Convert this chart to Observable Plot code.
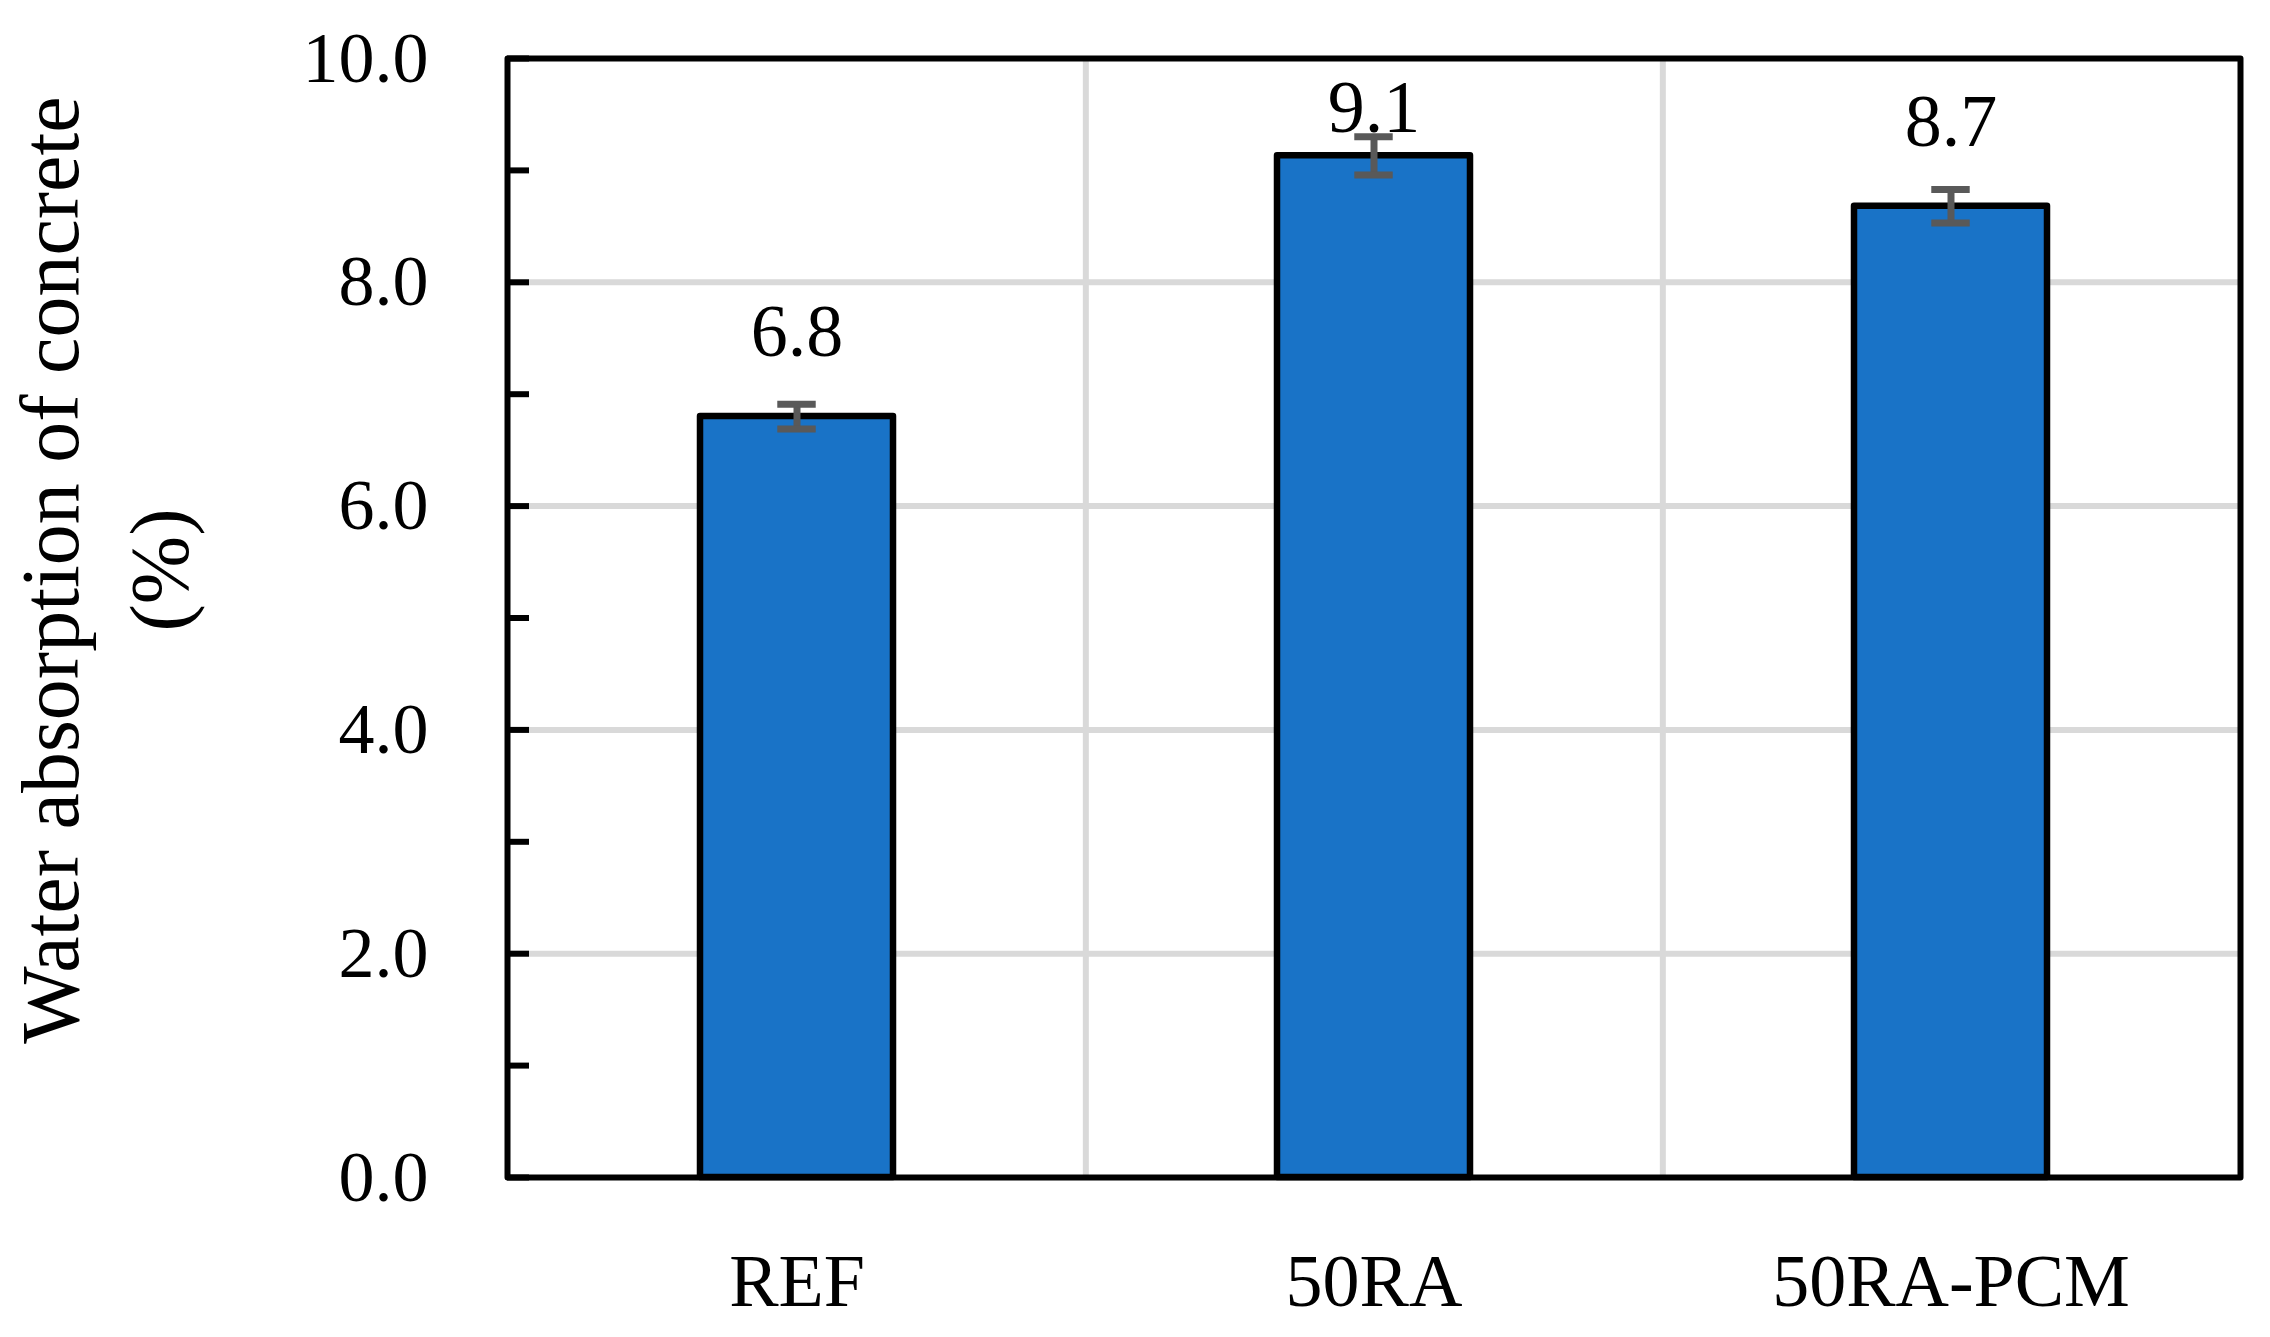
<!DOCTYPE html>
<html>
<head>
<meta charset="utf-8">
<script src="https://cdn.jsdelivr.net/npm/d3@7"></script>
<script src="https://cdn.jsdelivr.net/npm/@observablehq/plot@0.6"></script>
<style>
  html, body { margin: 0; padding: 0; background: #fff; }
  #chart svg { display: block; }
</style>
</head>
<body>
<div id="chart"></div>
<script>
// ---- data ----
const categories = ["REF", "50RA", "50RA-PCM"];
const values = [6.80, 9.13, 8.68];
const errors = [0.11, 0.17, 0.15];
const yMajorTicks = [0, 2, 4, 6, 8, 10];
const yMinorTicks = [1, 3, 5, 7, 9];
const yTitle = "Water absorption of concrete\n(%)";

const data = categories.map((c, i) => ({cat: c, value: values[i], err: errors[i]}));

// ---- layout ----
const W = 2270, H = 1337;
const mL = 507, mR = 30, mT = 58, mB = 160;
const innerW = W - mL - mR;
const step = innerW / 3;
const font = "'Liberation Serif', 'Times New Roman', serif";
const allTicks = [...yMajorTicks, ...yMinorTicks];

const chart = Plot.plot({
  width: W,
  height: H,
  marginLeft: mL,
  marginRight: mR,
  marginTop: mT,
  marginBottom: mB,
  style: {fontFamily: font, color: "black", background: "white"},
  x: {domain: categories, paddingInner: 0.666, paddingOuter: 0.333, label: null},
  y: {domain: [0, 10], label: null},
  marks: [
    // gridlines
    Plot.ruleY(yMajorTicks.filter(d => d > 0 && d < 10), {stroke: "#d9d9d9", strokeWidth: 6}),
    Plot.ruleX(categories.slice(0, 2), {stroke: "#d9d9d9", strokeWidth: 6, dx: step / 2}),
    // bars
    Plot.barY(data, {x: "cat", y: "value", fill: "#1973c7", stroke: "black", strokeWidth: 6.5, strokeLinejoin: "round"}),
    // error bars
    Plot.ruleX(data, {x: "cat", y1: d => d.value - d.err, y2: d => d.value + d.err, stroke: "#595959", strokeWidth: 7}),
    Plot.tickY(data, {x: "cat", y: d => d.value - d.err, stroke: "#595959", strokeWidth: 7, insetLeft: (step / 3 - 38) / 2, insetRight: (step / 3 - 38) / 2}),
    Plot.tickY(data, {x: "cat", y: d => d.value + d.err, stroke: "#595959", strokeWidth: 7, insetLeft: (step / 3 - 38) / 2, insetRight: (step / 3 - 38) / 2}),
    // value labels
    Plot.text(data, {x: "cat", y: d => Math.min(d.value + 0.54, 9.34), text: d => d.value.toFixed(1), lineAnchor: "bottom", fontSize: 74, fill: "black"}),
    // inward y ticks
    Plot.tickY(allTicks, {y: d => d, stroke: "black", strokeWidth: 6, insetRight: innerW - 22}),
    // frame
    Plot.frame({stroke: "black", strokeWidth: 6, strokeLinejoin: "round"}),
    // axes
    Plot.axisY({ticks: yMajorTicks, tickSize: 0, tickPadding: 79, tickFormat: d => d.toFixed(1), fontSize: 72, fill: "black", label: null}),
    Plot.axisX({tickSize: 0, tickPadding: 76, fontSize: 74, fill: "black", label: null}),
    // y title
    Plot.text([yTitle], {text: d => d, frameAnchor: "left", textAnchor: "middle", rotate: -90, dx: -410, dy: -48, lineHeight: 1.33, lineAnchor: "middle", fontSize: 82, fill: "black"})
  ]
});
document.getElementById("chart").appendChild(chart);
</script>
</body>
</html>
